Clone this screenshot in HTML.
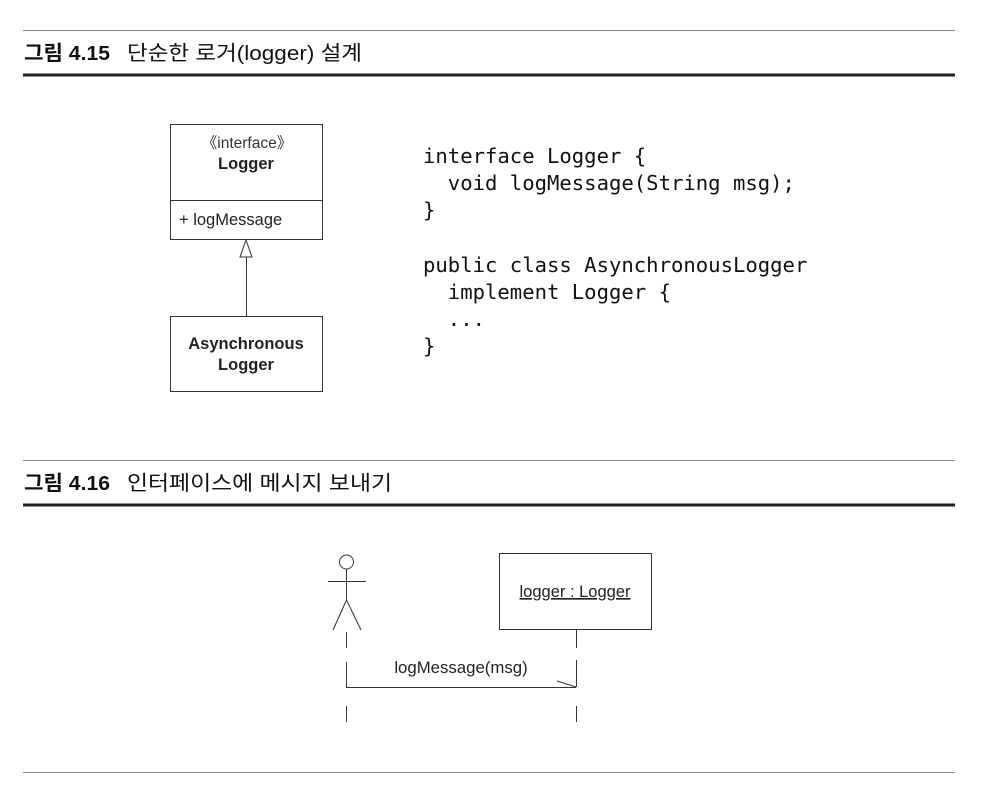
<!DOCTYPE html>
<html><head><meta charset="utf-8"><style>
html,body{margin:0;padding:0;background:#fff;width:982px;height:810px;overflow:hidden}
</style></head><body>
<svg width="982" height="810" xmlns="http://www.w3.org/2000/svg" style="display:block">
<g font-family="'Liberation Sans','Noto Sans CJK KR',sans-serif">
<!-- header 1 -->
<line x1="23" y1="30.5" x2="955" y2="30.5" stroke="#888" stroke-width="1"/>
<text x="24" y="60" font-size="20.5" font-weight="bold" fill="#111" textLength="86" lengthAdjust="spacingAndGlyphs">그림 4.15</text>
<text x="127" y="60" font-size="20.5" fill="#111" textLength="235" lengthAdjust="spacingAndGlyphs">단순한 로거(logger) 설계</text>
<line x1="23" y1="75" x2="955" y2="75" stroke="#222" stroke-width="3"/>
<!-- class diagram -->
<rect x="170.5" y="124.5" width="152" height="115" fill="none" stroke="#333"/>
<line x1="170" y1="200.5" x2="322" y2="200.5" stroke="#333"/>
<text x="247" y="148" font-size="15.5" text-anchor="middle" fill="#333">《interface》</text>
<text x="246" y="169" font-size="16.5" font-weight="bold" text-anchor="middle" fill="#222">Logger</text>
<text x="179" y="225" font-size="16.5" fill="#222">+ logMessage</text>
<polygon points="246,240 240,257 252,257" fill="#fff" stroke="#333"/>
<line x1="246.5" y1="257" x2="246.5" y2="316" stroke="#333"/>
<rect x="170.5" y="316.5" width="152" height="75" fill="none" stroke="#333"/>
<text x="246" y="349" font-size="16.5" font-weight="bold" text-anchor="middle" fill="#222">Asynchronous</text>
<text x="246" y="370" font-size="16.5" font-weight="bold" text-anchor="middle" fill="#222">Logger</text>
<!-- code -->
<g font-family="'DejaVu Sans Mono','Liberation Mono',monospace" font-size="20.6" fill="#111">
<text x="423" y="163" xml:space="preserve">interface Logger {</text>
<text x="423" y="190" xml:space="preserve">  void logMessage(String msg);</text>
<text x="423" y="217" xml:space="preserve">}</text>
<text x="423" y="272" xml:space="preserve">public class AsynchronousLogger</text>
<text x="423" y="299" xml:space="preserve">  implement Logger {</text>
<text x="423" y="326" xml:space="preserve">  ...</text>
<text x="423" y="353" xml:space="preserve">}</text>
</g>
<!-- header 2 -->
<line x1="23" y1="460.5" x2="955" y2="460.5" stroke="#888" stroke-width="1"/>
<text x="24" y="490" font-size="20.5" font-weight="bold" fill="#111" textLength="86" lengthAdjust="spacingAndGlyphs">그림 4.16</text>
<text x="127" y="490" font-size="20.5" fill="#111" textLength="265" lengthAdjust="spacingAndGlyphs">인터페이스에 메시지 보내기</text>
<line x1="23" y1="505" x2="955" y2="505" stroke="#222" stroke-width="3"/>
<!-- sequence -->
<g stroke="#333" fill="none">
<circle cx="346.5" cy="562" r="7"/>
<line x1="328" y1="581.5" x2="366" y2="581.5"/>
<line x1="346.5" y1="569" x2="346.5" y2="600"/>
<line x1="346.5" y1="600" x2="333" y2="630"/>
<line x1="346.5" y1="600" x2="361" y2="630"/>
<line x1="346.5" y1="632" x2="346.5" y2="648"/>
<line x1="346.5" y1="662" x2="346.5" y2="687"/>
<line x1="346" y1="687.5" x2="576" y2="687.5"/>
<line x1="557" y1="681" x2="576" y2="687"/>
<line x1="346.5" y1="706" x2="346.5" y2="722"/>
<rect x="499.5" y="553.5" width="152" height="76"/>
<line x1="576.5" y1="629" x2="576.5" y2="648"/>
<line x1="576.5" y1="660" x2="576.5" y2="687"/>
<line x1="576.5" y1="706" x2="576.5" y2="722"/>
</g>
<text x="575" y="597" font-size="16.5" text-anchor="middle" fill="#222" text-decoration="underline">logger : Logger</text>
<text x="461" y="673" font-size="16.8" text-anchor="middle" fill="#222">logMessage(msg)</text>
<line x1="23" y1="772.5" x2="955" y2="772.5" stroke="#888" stroke-width="1"/>
</g>
</svg>
</body></html>
